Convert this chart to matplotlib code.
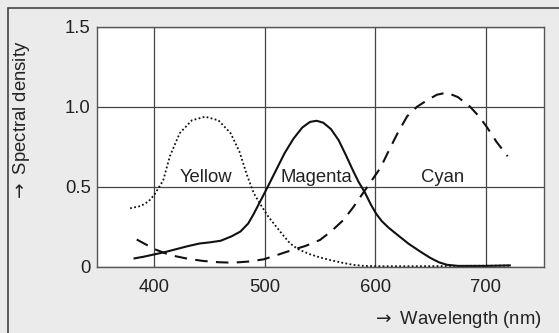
import matplotlib
matplotlib.use('Agg')
import matplotlib.pyplot as plt
from matplotlib.patches import Rectangle

plt.rcParams['font.family'] = ['Liberation Sans', 'DejaVu Sans']

# Yellow (dotted)
yellow_nm = [378, 388, 395, 400, 408, 414, 423, 434, 446, 458, 469, 477, 484, 490, 496,
             503, 511, 518, 523, 530, 540, 550, 559, 570, 580, 590, 605, 640, 680, 722]
yellow_val = [0.365, 0.38, 0.41, 0.45, 0.54, 0.69, 0.835, 0.915, 0.9375, 0.915, 0.835, 0.72,
              0.57, 0.46, 0.39, 0.315, 0.245, 0.185, 0.145, 0.11, 0.08, 0.058, 0.042, 0.025,
              0.012, 0.005, 0.003, 0.003, 0.005, 0.007]

# Magenta (solid)
magenta_nm = [382, 390, 400, 410, 420, 430, 441, 450, 460, 470, 478, 485, 490, 496, 502,
              510, 518, 526, 534, 541, 547, 553, 560, 567, 574, 580, 585, 591, 596, 601,
              606, 612, 620, 630, 641, 650, 658, 665, 675, 700, 722]
magenta_val = [0.052, 0.062, 0.077, 0.092, 0.11, 0.128, 0.145, 0.152, 0.162, 0.19, 0.22,
               0.27, 0.33, 0.41, 0.49, 0.6, 0.71, 0.8, 0.87, 0.905, 0.912, 0.9, 0.86, 0.79,
               0.69, 0.6, 0.53, 0.46, 0.39, 0.33, 0.285, 0.245, 0.2, 0.145, 0.094, 0.055,
               0.027, 0.012, 0.005, 0.005, 0.008]

# Cyan (dashed)
cyan_nm = [384, 392, 400, 414, 430, 444, 458, 471, 485, 499, 512, 523, 537, 550, 560, 571,
           580, 589, 597, 605, 612, 620, 629, 638, 647, 656, 665, 675, 686, 694, 701, 710, 720]
cyan_val = [0.17, 0.14, 0.11, 0.073, 0.05, 0.036, 0.028, 0.025, 0.032, 0.046, 0.075, 0.1,
            0.13, 0.167, 0.22, 0.29, 0.37, 0.46, 0.54, 0.62, 0.72, 0.83, 0.94, 1.0, 1.04,
            1.075, 1.088, 1.06, 1.0, 0.94, 0.875, 0.78, 0.69]

labels = ['Yellow', 'Magenta', 'Cyan']
label_x = [447, 547, 661]
label_y = [0.53, 0.53, 0.53]

x_ticks = [400, 500, 600, 700]
y_ticks = [0, 0.5, 1.0, 1.5]
y_ticklabels = ['0', '0.5', '1.0', '1.5']

fig = plt.figure(figsize=(5.59, 3.33), dpi=100, facecolor='#ebebeb')
# outer frame
fig.patches.append(Rectangle((8 / 559, -0.1), 1.2, 1 - 8 / 333 + 0.1, transform=fig.transFigure,
                             fill=False, edgecolor='#444444', linewidth=1.2))

ax = fig.add_axes([0.1735, 0.1967, 0.9732 - 0.1735, 0.9198 - 0.1967])
ax.set_facecolor('white')

txt = '#222222'
ax.plot(yellow_nm, yellow_val, color='#111111', lw=1.3, linestyle=(0, (1, 1.3)))
ax.plot(magenta_nm, magenta_val, color='#111111', lw=1.5)
ax.plot(cyan_nm, cyan_val, color='#111111', lw=1.5, linestyle=(0, (6, 4)))

for lab, lx, ly in zip(labels, label_x, label_y):
    ax.text(lx, ly, lab, ha='center', va='baseline', fontsize=13.3, color=txt)

ax.set_xlim(348, 753)
ax.set_ylim(-0.005, 1.5)
ax.set_xticks(x_ticks)
ax.set_yticks(y_ticks)
ax.set_yticklabels(y_ticklabels)
ax.tick_params(length=0, labelsize=13.3, labelcolor=txt)
ax.tick_params(axis='x', pad=8)
ax.tick_params(axis='y', pad=4.5)
ax.grid(True, color='#444444', linewidth=0.9)
ax.set_axisbelow(True)
for s in ax.spines.values():
    s.set_color('#555555')
    s.set_linewidth(1.0)

fig.text(22 / 559, 1 - 121 / 333, r'$\rightarrow$ Spectral density', rotation=90,
         ha='center', va='center', fontsize=13.3, color=txt)
fig.text(542 / 559, 1 - 319 / 333, r'$\rightarrow$ Wavelength (nm)', ha='right', va='center',
         fontsize=13.3, color=txt)

fig.savefig('out.png', dpi=100, facecolor=fig.get_facecolor())
